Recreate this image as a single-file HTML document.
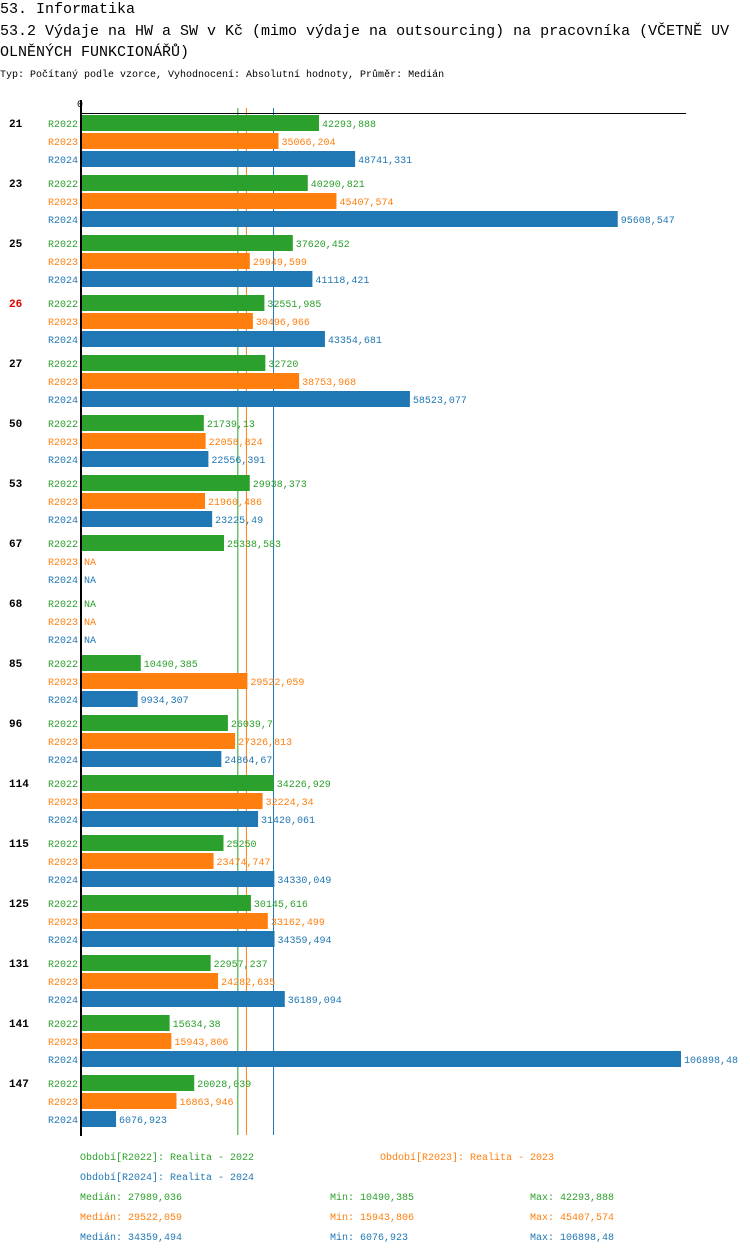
<!DOCTYPE html>
<html><head><meta charset="utf-8"><style>
body{margin:0;background:#fff;width:750px;height:1254px;overflow:hidden;font-family:"Liberation Mono",monospace}
svg text{font-family:"Liberation Mono",monospace}
</style></head><body>
<svg id="chart" width="750" height="1254" xmlns="http://www.w3.org/2000/svg">
<text x="0" y="13" font-size="15" fill="#000">53. Informatika</text>
<text x="0" y="35" font-size="15" fill="#000">53.2 Výdaje na HW a SW v Kč (mimo výdaje na outsourcing) na pracovníka (VČETNĚ UV</text>
<text x="0" y="56" font-size="15" fill="#000">OLNĚNÝCH FUNKCIONÁŘŮ)</text>
<text x="0" y="77" font-size="10" fill="#000">Typ: Počítaný podle vzorce, Vyhodnocení: Absolutní hodnoty, Průměr: Medián</text>
<text x="77" y="107" font-size="10" fill="#000">0</text>
<g id="bars"></g>
<g id="legend"></g>
</svg>
<script>
const groups=["21","23","25","26","27","50","53","67","68","85","96","114","115","125","131","141","147"];
const series=["R2022","R2023","R2024"];
const v2022=[42293.888,40290.821,37620.452,32551.985,32720,21739.13,29938.373,25338.583,null,10490.385,26039.7,34226.929,25250,30145.616,22957.237,15634.38,20028.039];
const v2023=[35066.204,45407.574,29949.599,30496.966,38753.968,22058.824,21960.486,null,null,29522.059,27326.813,32224.34,23474.747,33162.499,24282.635,15943.806,16863.946];
const v2024=[48741.331,95608.547,41118.421,43354.681,58523.077,22556.391,23225.49,null,null,9934.307,24864.67,31420.061,34330.049,34359.494,36189.094,106898.48,6076.923];
const medians=[27989.036,29522.059,34359.494];
const mins=[10490.385,15943.806,6076.923];
const maxs=[42293.888,45407.574,106898.48];
const colors=["#2ca02c","#ff7f0e","#1f77b4"];
const NS="http://www.w3.org/2000/svg";
const X0=82, XMAX=681, VMAX=106898.48;
const xs=v=>X0+(v/VMAX)*(XMAX-X0);
const rowY=(g,s)=>115+g*60+s*18;
const fmt=v=>String(v).replace('.',',');
const bars=document.getElementById('bars');
function el(tag,attrs,parent,txt){const e=document.createElementNS(NS,tag);for(const k in attrs)e.setAttribute(k,attrs[k]);if(txt!==undefined)e.textContent=txt;parent.appendChild(e);return e;}
const vals=[v2022,v2023,v2024];
medians.forEach((m,i)=>{const l=el('line',{x1:xs(m)-1,x2:xs(m)-1,y1:108,y2:1135,stroke:colors[i],'stroke-width':1},bars);

});
groups.forEach((g,gi)=>{
  const t=el('text',{x:9,y:rowY(gi,0)+12,'font-size':11,'font-weight':'bold',fill:gi===3?'#e00000':'#000'},bars,g);
  
  
  series.forEach((s,si)=>{
    const y=rowY(gi,si), v=vals[si][gi];
    const sl=el('text',{x:78,y:y+12,'font-size':10,fill:colors[si],'text-anchor':'end'},bars,s);
    
    
    if(v===null){
      const na=el('text',{x:84,y:y+12,'font-size':10,fill:colors[si]},bars,'NA');
      
      
      return;
    }
    const r=el('rect',{x:X0,y:y,width:xs(v)-X0,height:16,fill:colors[si]},bars);
    
    
    const vl=el('text',{x:xs(v)+3,y:y+12,'font-size':10,fill:colors[si]},bars,fmt(v));
    
    
  });
});
const ax=el('line',{x1:81,x2:81,y1:100,y2:1136,stroke:'#000','stroke-width':2},bars);


const tx=el('line',{x1:80,x2:686,y1:113.5,y2:113.5,stroke:'#000','stroke-width':1},bars);


const lg=document.getElementById('legend');
const legItems=[[80,1160,0,'Období[R2022]: Realita - 2022'],[380,1160,1,'Období[R2023]: Realita - 2023'],[80,1180,2,'Období[R2024]: Realita - 2024']];
legItems.forEach(it=>{const t=el('text',{x:it[0],y:it[1],'font-size':10,fill:colors[it[2]]},lg,it[3]);

});
series.forEach((s,i)=>{const y=1200+i*20;
 const a=el('text',{x:80,y:y,'font-size':10,fill:colors[i]},lg,'Medián: '+fmt(medians[i]));
 
 
 const b=el('text',{x:330,y:y,'font-size':10,fill:colors[i]},lg,'Min: '+fmt(mins[i]));
 
 
 const c=el('text',{x:530,y:y,'font-size':10,fill:colors[i]},lg,'Max: '+fmt(maxs[i]));
 
 
});
</script>
</body></html>
